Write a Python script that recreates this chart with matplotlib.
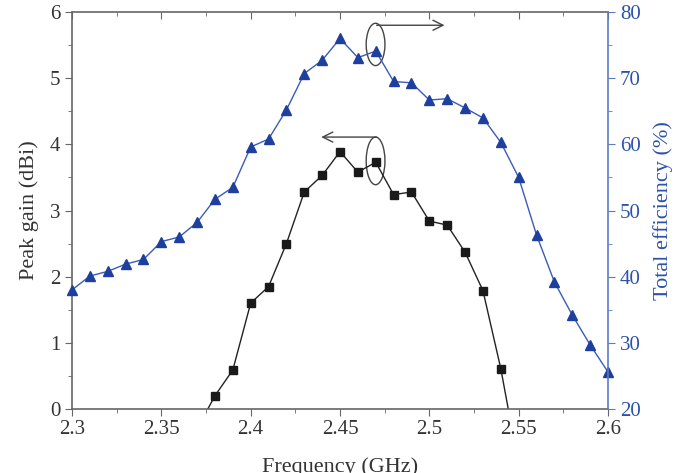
import numpy as np
import matplotlib.pyplot as plt
from matplotlib.patches import Ellipse
from matplotlib.ticker import MultipleLocator

plt.rcParams['font.family'] = ['Liberation Serif', 'DejaVu Serif']

freq = np.round(np.arange(2.30, 2.601, 0.01), 2)
# total efficiency (%) at every frequency
eff = [38.0, 40.1, 40.8, 41.9, 42.6, 45.3, 46.0, 48.2, 51.7, 53.5,
       59.6, 60.8, 65.2, 70.7, 72.7, 76.0, 73.1, 74.1, 69.5, 69.3,
       66.7, 66.9, 65.5, 64.0, 60.3, 55.0, 46.3, 39.2, 34.2, 29.7, 25.6]
# peak gain (dBi), 2.37 ... 2.55
gain_freq = np.round(np.arange(2.37, 2.551, 0.01), 2)
gain = [-0.3, 0.2, 0.59, 1.6, 1.85, 2.5, 3.28, 3.53, 3.89, 3.58,
        3.73, 3.24, 3.28, 2.84, 2.78, 2.37, 1.79, 0.61, -0.85]

blue = '#1f3f9f'
axblue = '#5b7bc4'
grey = '#666666'
fs_tick = 15
fs_lab = 16

fig = plt.figure(figsize=(6.88, 4.73), dpi=100)
ax = fig.add_axes([0.1047, 0.1353, 0.7790, 0.8393])
ax2 = ax.twinx()

ax.plot(gain_freq, gain, color='#222222', lw=1.0, marker='s', ms=6,
        mfc='#1a1a1a', mec='#1a1a1a', clip_on=True)
ax2.plot(freq, eff, color='#3a5cb8', lw=1.0, marker='^', ms=7.5,
         mfc=blue, mec=blue, clip_on=False)

ax.set_xlim(2.3, 2.6)
ax.set_ylim(0, 6)
ax2.set_ylim(20, 80)

ax.xaxis.set_major_locator(MultipleLocator(0.05))
ax.xaxis.set_minor_locator(MultipleLocator(0.025))
ax.yaxis.set_major_locator(MultipleLocator(1))
ax.yaxis.set_minor_locator(MultipleLocator(0.5))
ax2.yaxis.set_major_locator(MultipleLocator(10))
ax2.yaxis.set_minor_locator(MultipleLocator(5))
ax.set_xticks([2.3, 2.35, 2.4, 2.45, 2.5, 2.55, 2.6])
ax.set_xticklabels(['2.3', '2.35', '2.4', '2.45', '2.5', '2.55', '2.6'])

for s in ['left', 'bottom', 'top']:
    ax.spines[s].set_color(grey)
    ax.spines[s].set_linewidth(1.2)
ax2.spines['right'].set_color(axblue)
ax2.spines['right'].set_linewidth(1.2)
for s in ['left', 'bottom', 'top']:
    ax2.spines[s].set_visible(False)
ax.spines['right'].set_visible(False)

ax.tick_params(axis='x', which='both', direction='out', top=True, colors=grey,
               labelcolor='#333333', labelsize=fs_tick, pad=3)
ax.tick_params(axis='x', which='major', length=5)
ax.tick_params(axis='x', which='minor', length=3)
ax.tick_params(axis='y', which='both', direction='out', right=False, colors=grey,
               labelcolor='#333333', labelsize=fs_tick)
ax.tick_params(axis='y', which='major', length=5)
ax.tick_params(axis='y', which='minor', length=3)
# top ticks point inward
for t in ax.xaxis.get_major_ticks() + ax.xaxis.get_minor_ticks():
    t.tick2line.set_marker(3)
ax2.tick_params(axis='y', which='both', direction='out', colors=axblue,
                labelcolor='#2c52a8', labelsize=fs_tick)
ax2.tick_params(axis='y', which='major', length=5)
ax2.tick_params(axis='y', which='minor', length=3)

ax.set_xlabel('Frequency (GHz)', fontsize=fs_lab, color='#333333', labelpad=13)
ax.set_ylabel('Peak gain (dBi)', fontsize=fs_lab, color='#333333', labelpad=8)
ax2.set_ylabel('Total efficiency (%)', fontsize=fs_lab, color='#2c52a8', labelpad=9)

# loops and arrows
ax.add_patch(Ellipse((2.4699, 5.51), 0.0105, 0.64, fill=False, ec='#444444', lw=1.0))
ax.add_patch(Ellipse((2.4699, 3.75), 0.0105, 0.72, fill=False, ec='#444444', lw=1.0))
ax.annotate('', xy=(2.5085, 5.80), xytext=(2.4705, 5.80),
            arrowprops=dict(arrowstyle='->', color='#444444', lw=1.0,
                            mutation_scale=18, shrinkA=0, shrinkB=0))
ax.annotate('', xy=(2.4395, 4.11), xytext=(2.4705, 4.11),
            arrowprops=dict(arrowstyle='->', color='#444444', lw=1.0,
                            mutation_scale=18, shrinkA=0, shrinkB=0))

fig.savefig('out.png', dpi=100)
